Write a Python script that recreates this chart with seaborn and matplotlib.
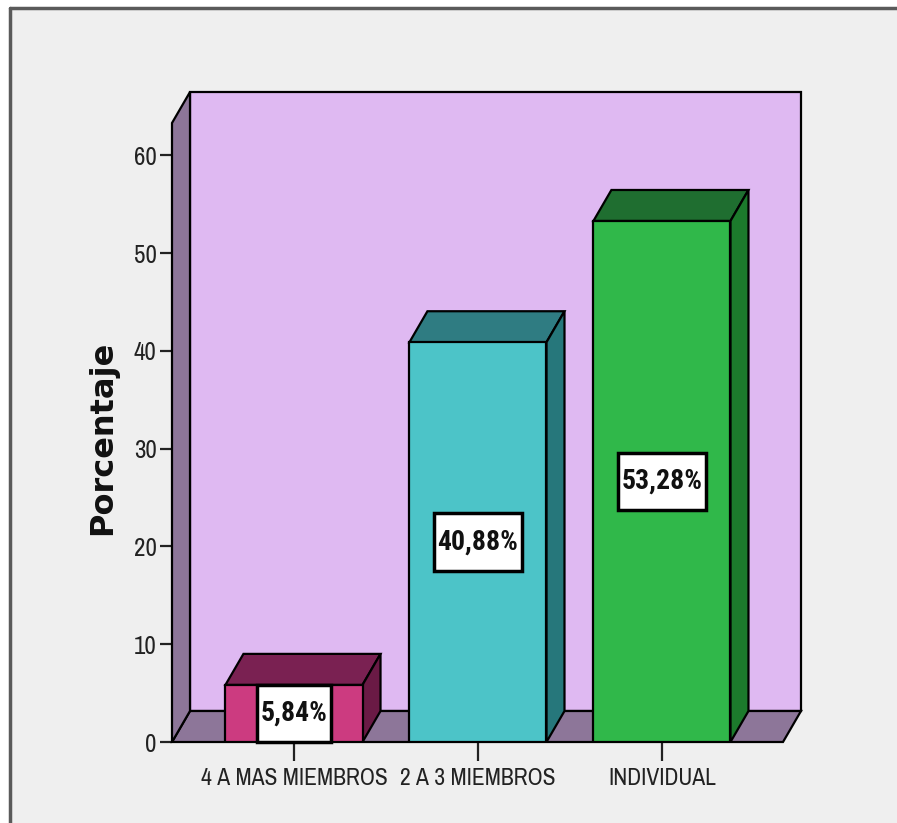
import matplotlib
matplotlib.use("Agg")
import matplotlib.pyplot as plt
from matplotlib import font_manager
from matplotlib.patches import Polygon, Rectangle
from matplotlib.lines import Line2D
from matplotlib.path import Path
import seaborn as sns
import pandas as pd

# ---------------- data ----------------
categories = ["4 A MAS MIEMBROS", "2 A 3 MIEMBROS", "INDIVIDUAL"]
values = [5.84, 40.88, 53.28]
value_labels = ["5,84%", "40,88%", "53,28%"]
y_ticks = [0, 10, 20, 30, 40, 50, 60]
y_label = "Porcentaje"

# ---------------- style ----------------
front_colors = ["#cc3b80", "#4cc4c8", "#30b84a"]
top_colors = ["#7a2152", "#2f7c82", "#1f6e30"]
side_colors = ["#6a1a45", "#26777b", "#1c7a2c"]
wall_color = "#dfb9f2"
side_wall_color = "#8d7699"
bg_color = "#efefef"

sns.set_theme(style="white")
ttf = font_manager.fontManager.ttflist
installed = {f.name for f in ttf}
narrow_candidates = ["Liberation Sans Narrow", "Arial Narrow", "Archivo Narrow",
                     "Roboto Condensed", "Liberation Sans"]
narrow = next((f for f in narrow_candidates if f in installed), "DejaVu Sans")
bold_names = {f.name for f in ttf
              if (isinstance(f.weight, int) and f.weight >= 600)
              or str(f.weight).lower() in ("bold", "semibold", "demibold", "heavy", "black")}
narrow_bold = next((f for f in narrow_candidates if f in bold_names), "DejaVu Sans")
is_narrow = narrow not in ("Liberation Sans", "DejaVu Sans")
bold_is_narrow = narrow_bold not in ("Liberation Sans", "DejaVu Sans")
plt.rcParams["font.family"] = [narrow, "DejaVu Sans"]


def label_box(x0, y0, width, height, mutation_size):
    px, py = 0.12 * mutation_size, 0.55 * mutation_size
    x0, y0 = x0 - px, y0 - py
    x1, y1 = x0 + width + 2 * px, y0 + height + 2 * py
    return Path([(x0, y0), (x1, y0), (x1, y1), (x0, y1), (x0, y0)], closed=True)


W, H = 897, 823
fig = plt.figure(figsize=(W / 100, H / 100), dpi=100, facecolor="white")

# frame background (light gray with dark top/left borders)
fig.patches.append(Rectangle((10 / W, 0), 1, (H - 8) / H, transform=fig.transFigure,
                             facecolor=bg_color, edgecolor="none", zorder=-10))
fig.lines.append(Line2D([10 / W, 1], [(H - 8) / H] * 2, transform=fig.transFigure,
                        color="#5a5a5a", lw=2.5, zorder=-9))
fig.lines.append(Line2D([10 / W] * 2, [0, (H - 8) / H], transform=fig.transFigure,
                        color="#5a5a5a", lw=2.5, zorder=-9))

# axes = front plane of the 3D box
x_left_px, x_right_px, y0_px, ytop_px = 172, 783, 742, 123
ax = fig.add_axes([x_left_px / W, (H - y0_px) / H,
                   (x_right_px - x_left_px) / W, (y0_px - ytop_px) / H])
ax.patch.set_alpha(0)

df = pd.DataFrame({"cat": categories, "val": values})
sns.barplot(data=df, x="cat", y="val", hue="cat", palette=front_colors, order=categories,
            hue_order=categories, legend=False, width=0.745, edgecolor="black",
            linewidth=1.6, saturation=1, ax=ax, zorder=5)
bars = sorted(list(ax.patches), key=lambda p: p.get_x())

ax.set_xlim(-0.663, 2.658)
ax.set_ylim(0, 63.3)
xmin, xmax = ax.get_xlim()
ymin, ymax = ax.get_ylim()

# depth offset (pixels -> data units)
px_per_x = (x_right_px - x_left_px) / (xmax - xmin)
px_per_y = (y0_px - ytop_px) / (ymax - ymin)
dx = 18 / px_per_x
dy = 31 / px_per_y

edge = dict(edgecolor="black", linewidth=1.6, clip_on=False)
# back wall
ax.add_patch(Polygon([(xmin + dx, dy), (xmax + dx, dy), (xmax + dx, ymax + dy),
                      (xmin + dx, ymax + dy)], facecolor=wall_color, zorder=1, **edge))
# floor
ax.add_patch(Polygon([(xmin, 0), (xmax, 0), (xmax + dx, dy), (xmin + dx, dy)],
                     facecolor=side_wall_color, zorder=2, **edge))
# left wall
ax.add_patch(Polygon([(xmin, 0), (xmin + dx, dy), (xmin + dx, ymax + dy), (xmin, ymax)],
                     facecolor=side_wall_color, zorder=2, **edge))

# 3D faces of the bars
for i, b in enumerate(bars):
    x0, w, h = b.get_x(), b.get_width(), b.get_height()
    x1 = x0 + w
    ax.add_patch(Polygon([(x0, h), (x1, h), (x1 + dx, h + dy), (x0 + dx, h + dy)],
                         facecolor=top_colors[i], zorder=4, **edge))
    ax.add_patch(Polygon([(x1, 0), (x1 + dx, dy), (x1 + dx, h + dy), (x1, h)],
                         facecolor=side_colors[i], zorder=4, **edge))
    ax.text(x0 + w / 2, h / 2, value_labels[i], ha="center", va="center",
            family=[narrow_bold, "DejaVu Sans"],
            fontsize=20 if bold_is_narrow else 16, fontweight="bold", color="#111111",
            zorder=7,
            bbox=dict(boxstyle=label_box, facecolor="white",
                      edgecolor="black", linewidth=2.5))

for s in ax.spines.values():
    s.set_visible(False)
ax.set_yticks(y_ticks)
ax.set_yticklabels([str(t) for t in y_ticks])
ax.tick_params(axis="y", length=9, width=1.6, color="#222222", pad=2,
               labelsize=18 if is_narrow else 16, labelcolor="#222222", left=True)
ax.tick_params(axis="x", length=14, width=1.6, color="#222222", pad=5,
               labelsize=17 if is_narrow else 14, labelcolor="#222222", bottom=True)
ax.set_xlabel("")
ax.set_ylabel("")
fig.text(103 / W, 1 - 438 / H, y_label, rotation=90, ha="center", va="center",
         fontsize=23, fontweight="bold", family="DejaVu Sans", color="#111111")

fig.savefig("out.png", dpi=100, facecolor="white")
